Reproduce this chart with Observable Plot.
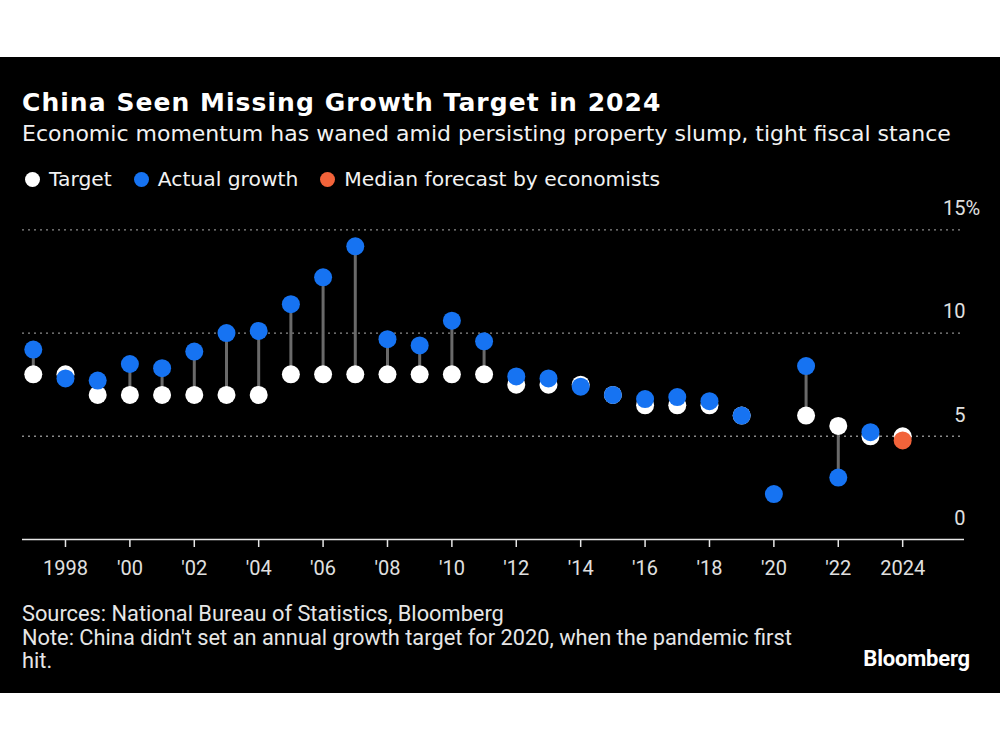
<!DOCTYPE html>
<html>
<head>
<meta charset="utf-8">
<script src="https://cdn.jsdelivr.net/npm/d3@7"></script>
<script src="https://cdn.jsdelivr.net/npm/@observablehq/plot@0.6"></script>
<style>
  html, body { margin: 0; padding: 0; background: #fff; width: 1000px; height: 750px; overflow: hidden; }
  #panel { position: absolute; left: 0; top: 57px; width: 1000px; height: 636px; background: #000; }
  .abs { position: absolute; white-space: nowrap; color: #f2f2f2; }
  #title { left: 22px; top: 31px; font: bold 25px "DejaVu Sans", sans-serif; letter-spacing: 1.05px; line-height: 30px; color: #fff; }
  #subtitle { left: 22px; top: 62px; font: 22px "DejaVu Sans", sans-serif; line-height: 30px; }
  #legend { left: 25px; top: 107px; font: 20.3px "DejaVu Sans", sans-serif; line-height: 30px; display: flex; align-items: center; }
  .sw { display: inline-block; width: 15px; height: 15px; border-radius: 50%; margin-right: 9px; }
  .item { display: inline-flex; align-items: center; margin-right: 22px; }
  #chart { position: absolute; left: 0; top: 138px; }
  #foot { left: 22px; top: 545px; font: 21.8px "Roboto", sans-serif; line-height: 23.5px; color: #e6e6e6; }
  #logo { right: 30px; top: 589px; font: bold 22px "Roboto", sans-serif; color: #fff; letter-spacing: -0.2px; }
</style>
</head>
<body>
<div id="panel">
  <div id="title" class="abs">China Seen Missing Growth Target in 2024</div>
  <div id="subtitle" class="abs">Economic momentum has waned amid persisting property slump, tight fiscal stance</div>
  <div id="legend" class="abs"></div>
  <div id="chart"></div>
  <div id="foot" class="abs">Sources: National Bureau of Statistics, Bloomberg<br>Note: China didn't set an annual growth target for 2020, when the pandemic first<br>hit.</div>
  <div id="logo" class="abs">Bloomberg</div>
</div>
<script>
// ---- data ----
const years = [1997,1998,1999,2000,2001,2002,2003,2004,2005,2006,2007,2008,2009,2010,2011,2012,2013,2014,2015,2016,2017,2018,2019,2020,2021,2022,2023,2024];
const targetValues = [8,8,7,7,7,7,7,7,8,8,8,8,8,8,8,7.5,7.5,7.5,7,6.5,6.5,6.5,6,null,6,5.5,5,5];
const actualValues = [9.2,7.8,7.7,8.5,8.3,9.1,10.0,10.1,11.4,12.7,14.2,9.7,9.4,10.6,9.6,7.9,7.8,7.4,7.0,6.8,6.9,6.7,6.0,2.2,8.4,3.0,5.2,null];
const forecastYears = [2024];
const forecastValues = [4.8];
const xTickYears = [1998,2000,2002,2004,2006,2008,2010,2012,2014,2016,2018,2020,2022,2024];
const xTickLabels = ["1998","'00","'02","'04","'06","'08","'10","'12","'14","'16","'18","'20","'22","2024"];
const yTicks = [0,5,10,15];
const yTickLabels = ["0","5","10","15"];
const seriesNames = ["Target","Actual growth","Median forecast by economists"];
const seriesColors = ["#ffffff","#1673f2","#f2633a"];

// ---- legend ----
const legend = document.getElementById("legend");
seriesNames.forEach((n, i) => {
  const it = document.createElement("span");
  it.className = "item";
  it.innerHTML = `<span class="sw" style="background:${seriesColors[i]}"></span>${n}`;
  legend.appendChild(it);
});

// ---- tables ----
const targets = years.map((y, i) => ({year: y, value: targetValues[i]})).filter(d => d.value != null);
const actuals = years.map((y, i) => ({year: y, value: actualValues[i]})).filter(d => d.value != null);
const forecasts = forecastYears.map((y, i) => ({year: y, value: forecastValues[i]}));
const stems = years.map((y, i) => ({year: y, t: targetValues[i], a: actualValues[i]})).filter(d => d.t != null && d.a != null);
const yLab = yTicks.map((v, i) => ({v, label: yTickLabels[i]}));

const chart = Plot.plot({
  width: 1000,
  height: 450,
  marginLeft: 22,
  marginRight: 36,
  marginTop: 34.3,
  marginBottom: 106,
  style: {background: "transparent", color: "#e0e0e0", fontFamily: "Roboto, sans-serif"},
  x: {domain: [1996.665, 2025.92], axis: null},
  y: {domain: [0, 15], axis: null},
  marks: [
    Plot.ruleY(yTicks.filter(d => d > 0), {stroke: "#8a8a8a", strokeDasharray: "2,4", strokeWidth: 1.3}),
    Plot.ruleY([0], {stroke: "#e6e6e6", strokeWidth: 1.5}),
    Plot.axisX({ticks: xTickYears, tickFormat: d => xTickLabels[xTickYears.indexOf(d)], label: null, tickSize: 8, tickPadding: 13, fontSize: 20, stroke: "#e6e6e6", fill: "#e0e0e0", strokeWidth: 1.5}),
    Plot.text(yLab, {y: "v", text: "label", frameAnchor: "right", textAnchor: "end", dy: -21, dx: 1, fontSize: 20, fill: "#e0e0e0"}),
    Plot.text(yLab.filter(d => d.v === 15), {y: "v", text: () => "%", frameAnchor: "right", textAnchor: "start", dy: -21, dx: 1, fontSize: 20, fill: "#e0e0e0"}),
    Plot.ruleX(stems, {x: "year", y1: "t", y2: "a", stroke: "#6a6a6a", strokeWidth: 3}),
    Plot.dot(targets, {x: "year", y: "value", r: 9, fill: seriesColors[0]}),
    Plot.dot(actuals, {x: "year", y: "value", r: 9, fill: seriesColors[1]}),
    Plot.dot(forecasts, {x: "year", y: "value", r: 9, fill: seriesColors[2]})
  ]
});
document.getElementById("chart").appendChild(chart);
</script>
</body>
</html>
